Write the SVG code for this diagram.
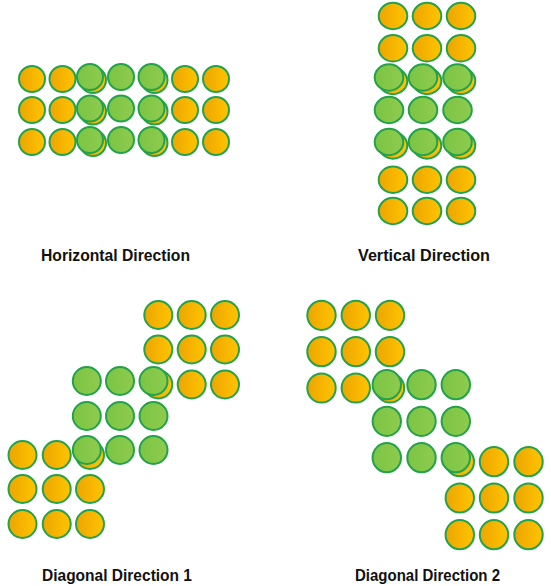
<svg xmlns="http://www.w3.org/2000/svg" width="551" height="586" viewBox="0 0 551 586">
<defs>
<linearGradient id="og" x1="0" y1="0" x2="1" y2="0">
<stop offset="0" stop-color="#EDA500"/>
<stop offset="1" stop-color="#FFC400"/>
</linearGradient>
<linearGradient id="gg" x1="0" y1="0" x2="1" y2="0">
<stop offset="0" stop-color="#7CC444"/>
<stop offset="1" stop-color="#8ECB4E"/>
</linearGradient>
<style>
.o{fill:url(#og);stroke:#22A24A;stroke-width:2}
.g{fill:url(#gg);stroke:#22A24A;stroke-width:2}
.lbl{font-family:"Liberation Sans",Arial,sans-serif;font-weight:bold;font-size:16.5px;fill:#111}
</style>
</defs>
<rect width="551" height="586" fill="#fff"/>

<g id="horizontal">
<circle class="o" cx="32" cy="79" r="13"/><circle class="o" cx="62.5" cy="79" r="13"/><circle class="o" cx="185" cy="79" r="13"/><circle class="o" cx="216" cy="79" r="13"/>
<circle class="o" cx="32" cy="110" r="13"/><circle class="o" cx="62.5" cy="110" r="13"/><circle class="o" cx="185" cy="110" r="13"/><circle class="o" cx="216" cy="110" r="13"/>
<circle class="o" cx="32" cy="142" r="13"/><circle class="o" cx="62.5" cy="142" r="13"/><circle class="o" cx="185" cy="142" r="13"/><circle class="o" cx="216" cy="142" r="13"/>
<circle class="o" cx="93" cy="80" r="13"/><circle class="o" cx="154.5" cy="80" r="13"/>
<circle class="o" cx="93" cy="111.5" r="13"/><circle class="o" cx="154.5" cy="111.5" r="13"/>
<circle class="o" cx="93" cy="143" r="13"/><circle class="o" cx="154.5" cy="143" r="13"/>
<circle class="g" cx="90" cy="77" r="13"/><circle class="g" cx="121" cy="77" r="13"/><circle class="g" cx="151.5" cy="77" r="13"/>
<circle class="g" cx="90" cy="108.5" r="13"/><circle class="g" cx="121" cy="108.5" r="13"/><circle class="g" cx="151.5" cy="108.5" r="13"/>
<circle class="g" cx="90" cy="140" r="13"/><circle class="g" cx="121" cy="140" r="13"/><circle class="g" cx="151.5" cy="140" r="13"/>
<text class="lbl" x="41" y="260.5" textLength="149" lengthAdjust="spacingAndGlyphs">Horizontal Direction</text>
</g>

<g id="vertical">
<ellipse class="o" cx="393" cy="16" rx="14.3" ry="13.2"/><ellipse class="o" cx="427" cy="16" rx="14.3" ry="13.2"/><ellipse class="o" cx="461" cy="16" rx="14.3" ry="13.2"/>
<ellipse class="o" cx="393" cy="48.3" rx="14.3" ry="13.2"/><ellipse class="o" cx="427" cy="48.3" rx="14.3" ry="13.2"/><ellipse class="o" cx="461" cy="48.3" rx="14.3" ry="13.2"/>
<ellipse class="o" cx="393" cy="179.7" rx="14.3" ry="13.2"/><ellipse class="o" cx="427" cy="179.7" rx="14.3" ry="13.2"/><ellipse class="o" cx="461" cy="179.7" rx="14.3" ry="13.2"/>
<ellipse class="o" cx="393" cy="211" rx="14.3" ry="13.2"/><ellipse class="o" cx="427" cy="211" rx="14.3" ry="13.2"/><ellipse class="o" cx="461" cy="211" rx="14.3" ry="13.2"/>
<ellipse class="o" cx="393" cy="81" rx="14.3" ry="13.2"/><ellipse class="o" cx="427" cy="81" rx="14.3" ry="13.2"/><ellipse class="o" cx="461" cy="81" rx="14.3" ry="13.2"/>
<ellipse class="o" cx="393" cy="145.5" rx="14.3" ry="13.2"/><ellipse class="o" cx="427" cy="145.5" rx="14.3" ry="13.2"/><ellipse class="o" cx="461" cy="145.5" rx="14.3" ry="13.2"/>
<ellipse class="g" cx="389" cy="77.5" rx="14.3" ry="13.2"/><ellipse class="g" cx="423" cy="77.5" rx="14.3" ry="13.2"/><ellipse class="g" cx="457.5" cy="77.5" rx="14.3" ry="13.2"/>
<ellipse class="g" cx="389" cy="110" rx="14.3" ry="13.2"/><ellipse class="g" cx="423" cy="110" rx="14.3" ry="13.2"/><ellipse class="g" cx="457.5" cy="110" rx="14.3" ry="13.2"/>
<ellipse class="g" cx="389" cy="142" rx="14.3" ry="13.2"/><ellipse class="g" cx="423" cy="142" rx="14.3" ry="13.2"/><ellipse class="g" cx="457.5" cy="142" rx="14.3" ry="13.2"/>
<text class="lbl" x="358" y="260.5" textLength="132" lengthAdjust="spacingAndGlyphs">Vertical Direction</text>
</g>

<g id="diagonal1">
<circle class="o" cx="158.3" cy="315" r="14"/><circle class="o" cx="191.7" cy="315" r="14"/><circle class="o" cx="225" cy="315" r="14"/>
<circle class="o" cx="158.3" cy="349.5" r="14"/><circle class="o" cx="191.7" cy="349.5" r="14"/><circle class="o" cx="225" cy="349.5" r="14"/>
<circle class="o" cx="158.3" cy="384.5" r="14"/><circle class="o" cx="191.7" cy="384.5" r="14"/><circle class="o" cx="225" cy="384.5" r="14"/>
<circle class="o" cx="22.5" cy="455" r="14"/><circle class="o" cx="56.7" cy="455" r="14"/><circle class="o" cx="90" cy="455" r="14"/>
<circle class="o" cx="22.5" cy="489" r="14"/><circle class="o" cx="56.7" cy="489" r="14"/><circle class="o" cx="90" cy="489" r="14"/>
<circle class="o" cx="22.5" cy="524" r="14"/><circle class="o" cx="56.7" cy="524" r="14"/><circle class="o" cx="90" cy="524" r="14"/>
<circle class="g" cx="86.8" cy="381" r="14"/><circle class="g" cx="120" cy="381" r="14"/><circle class="g" cx="153.5" cy="381" r="14"/>
<circle class="g" cx="86.8" cy="416" r="14"/><circle class="g" cx="120" cy="416" r="14"/><circle class="g" cx="153.5" cy="416" r="14"/>
<circle class="g" cx="86.8" cy="450" r="14"/><circle class="g" cx="120" cy="450" r="14"/><circle class="g" cx="153.5" cy="450" r="14"/>
<text class="lbl" x="42" y="581" textLength="150" lengthAdjust="spacingAndGlyphs">Diagonal Direction 1</text>
</g>

<g id="diagonal2">
<ellipse class="o" cx="321.5" cy="315.3" rx="14.2" ry="14.6"/><ellipse class="o" cx="355.8" cy="315.3" rx="14.2" ry="14.6"/><ellipse class="o" cx="390" cy="315.3" rx="14.2" ry="14.6"/>
<ellipse class="o" cx="321.5" cy="351.7" rx="14.2" ry="14.6"/><ellipse class="o" cx="355.8" cy="351.7" rx="14.2" ry="14.6"/><ellipse class="o" cx="390" cy="351.7" rx="14.2" ry="14.6"/>
<ellipse class="o" cx="321.5" cy="388" rx="14.2" ry="14.6"/><ellipse class="o" cx="355.8" cy="388" rx="14.2" ry="14.6"/><ellipse class="o" cx="390" cy="388" rx="14.2" ry="14.6"/>
<ellipse class="o" cx="459.8" cy="461.7" rx="14.2" ry="14.6"/><ellipse class="o" cx="494" cy="461.7" rx="14.2" ry="14.6"/><ellipse class="o" cx="528.5" cy="461.7" rx="14.2" ry="14.6"/>
<ellipse class="o" cx="459.8" cy="498" rx="14.2" ry="14.6"/><ellipse class="o" cx="494" cy="498" rx="14.2" ry="14.6"/><ellipse class="o" cx="528.5" cy="498" rx="14.2" ry="14.6"/>
<ellipse class="o" cx="459.8" cy="534.7" rx="14.2" ry="14.6"/><ellipse class="o" cx="494" cy="534.7" rx="14.2" ry="14.6"/><ellipse class="o" cx="528.5" cy="534.7" rx="14.2" ry="14.6"/>
<ellipse class="g" cx="386.8" cy="384.7" rx="14.2" ry="14.6"/><ellipse class="g" cx="421.5" cy="384.7" rx="14.2" ry="14.6"/><ellipse class="g" cx="455.8" cy="384.7" rx="14.2" ry="14.6"/>
<ellipse class="g" cx="386.8" cy="421.3" rx="14.2" ry="14.6"/><ellipse class="g" cx="421.5" cy="421.3" rx="14.2" ry="14.6"/><ellipse class="g" cx="455.8" cy="421.3" rx="14.2" ry="14.6"/>
<ellipse class="g" cx="386.8" cy="457.7" rx="14.2" ry="14.6"/><ellipse class="g" cx="421.5" cy="457.7" rx="14.2" ry="14.6"/><ellipse class="g" cx="455.8" cy="457.7" rx="14.2" ry="14.6"/>
<text class="lbl" x="355" y="581" textLength="145" lengthAdjust="spacingAndGlyphs">Diagonal Direction 2</text>
</g>
</svg>
